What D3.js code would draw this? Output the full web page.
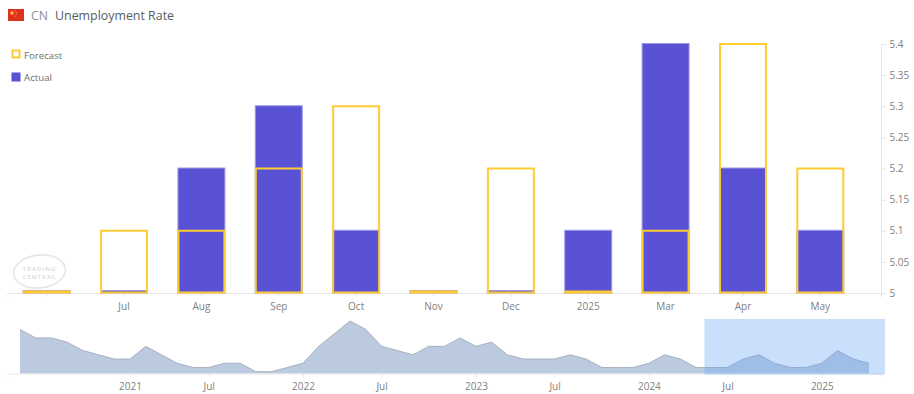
<!DOCTYPE html>
<html>
<head>
<meta charset="utf-8">
<script src="https://cdn.jsdelivr.net/npm/d3@7"></script>
<style>
  html, body { margin: 0; background: #fff; }
  svg { display: block; font-family: "Open Sans", sans-serif; }
  .axis path, .axis line { stroke: #e6e6e6; }
  .axis text { fill: #808080; font-size: 10px; font-family: "Open Sans", sans-serif; }
</style>
</head>
<body>
<div id="chart-area"></div>
<script>
const months = ["", "Jul", "Aug", "Sep", "Oct", "Nov", "Dec", "2025", "Mar", "Apr", "May"];
const forecast = [5.0, 5.1, 5.1, 5.2, 5.3, 5.0, 5.2, 5.0, 5.1, 5.4, 5.2];
const actual = [5.0, 5.0, 5.2, 5.3, 5.1, 5.0, 5.0, 5.1, 5.4, 5.2, 5.1];
const yTicks = [5, 5.05, 5.1, 5.15, 5.2, 5.25, 5.3, 5.35, 5.4];

// navigator history, one value per release (no January release, so the axis is ordinal)
const history = [
  5.9, 5.7, 5.7, 5.6, 5.4, 5.3, 5.2, 5.2, 5.5, 5.3, 5.1, 5.0, 5.0, 5.1, 5.1, 4.9, 4.9, 5.0, 5.1,
  5.5, 5.8, 6.1, 5.9, 5.5, 5.4, 5.3, 5.5, 5.5, 5.7, 5.5, 5.6, 5.3, 5.2, 5.2, 5.2, 5.3, 5.2, 5.0,
  5.0, 5.0, 5.1, 5.3, 5.2, 5.0, 5.0, 5.0, 5.2, 5.3, 5.1, 5.0, 5.0, 5.1, 5.4, 5.2, 5.1
];
const navTickIndex = [7, 12, 18, 23, 29, 34, 40, 45, 51];
const navTickLabels = ["2021", "Jul", "2022", "Jul", "2023", "Jul", "2024", "Jul", "2025"];
const selectedFrom = 43.53;

const plot = { left: 8, right: 881, barsRight: 859, top: 44, bottom: 293 };
const nav = { left: 20, right: 869, top: 321, low: 371.7, bottom: 373.5, selTop: 319, selRight: 885 };

const svg = d3.select("#chart-area").append("svg")
  .attr("width", 914)
  .attr("height", 394);

const drawHeader = function () {
  const flag = svg.append("g").attr("transform", "translate(8, 9)");
  flag.append("rect").attr("width", 16).attr("height", 12).attr("fill", "#e0301e");
  flag.append("circle").attr("cx", 4).attr("cy", 4).attr("r", 1.7).attr("fill", "#f5c842");
  [[7.4, 2], [8.4, 3.6], [8.4, 5.4], [7.4, 7]].forEach(([x, y]) => {
    flag.append("circle").attr("cx", x).attr("cy", y).attr("r", 0.5).attr("fill", "#f5c842");
  });

  svg.append("text").attr("x", 31).attr("y", 19.5)
    .attr("font-size", 12.4).attr("fill", "#8a8f96").text("CN");
  svg.append("text").attr("x", 55).attr("y", 19.5)
    .attr("font-size", 12.4).attr("fill", "#565c64").text("Unemployment Rate");
}

const drawLegend = function () {
  svg.append("rect").attr("x", 12.5).attr("y", 50.5).attr("width", 7).attr("height", 7)
    .attr("fill", "#fff").attr("stroke", "#ffcb33").attr("stroke-width", 2);
  svg.append("text").attr("x", 24).attr("y", 58.5)
    .attr("font-size", 9.7).attr("fill", "#707070").text("Forecast");
  svg.append("rect").attr("x", 11.5).attr("y", 72.5).attr("width", 9).attr("height", 9)
    .attr("fill", "#5a52d5");
  svg.append("text").attr("x", 24).attr("y", 81)
    .attr("font-size", 9.7).attr("fill", "#707070").text("Actual");
}

const drawWatermark = function () {
  const mark = svg.append("g").attr("transform", "translate(39.5, 271.5)");
  mark.append("ellipse").attr("rx", 26).attr("ry", 16.5).attr("transform", "rotate(-6)")
    .attr("fill", "none").attr("stroke", "#e6e6e6").attr("stroke-width", 1.6);
  const label = mark.append("text").attr("text-anchor", "middle").attr("letter-spacing", 1.1)
    .attr("font-size", 5.8).attr("font-weight", 700).attr("fill", "#dedede");
  label.append("tspan").attr("x", 0).attr("y", -0.5).text("TRADING");
  label.append("tspan").attr("x", 0).attr("y", 7.7).text("CENTRAL");
}

const drawMain = function () {
  const x = d3.scaleBand()
    .domain(months)
    .range([plot.left, plot.barsRight])
    .paddingInner(0.38)
    .paddingOuter(0.19);

  const y = d3.scaleLinear()
    .domain([5, 5.4])
    .range([plot.bottom, plot.top]);

  // a value on the baseline still shows as a sliver of about 3px
  const actualTop = v => Math.min(y(v) - 0.5, y(5) - 2.5);
  const forecastTop = v => Math.min(y(v), y(5) - 1.5);
  const forecastBottom = y(5) - 0.5;

  svg.append("g")
    .attr("class", "x axis")
    .attr("transform", `translate(0, ${plot.bottom + 0.5})`)
    .call(d3.axisBottom(x).tickSize(3).tickPadding(6))
    .call(g => g.select(".domain").attr("d", `M${plot.left},3V0H${plot.right}V3`));

  svg.append("g")
    .attr("class", "y axis")
    .attr("transform", `translate(${plot.right + 0.5}, 0)`)
    .call(d3.axisRight(y).tickValues(yTicks).tickFormat(d => d).tickSize(5).tickPadding(3))
    .call(g => g.select(".domain").attr("d", `M0,${plot.top}V${plot.bottom + 4}`));

  svg.append("g").selectAll("rect")
    .data(actual)
    .join("rect")
    .attr("x", (d, i) => x(months[i]) + 0.5)
    .attr("y", d => actualTop(d))
    .attr("width", x.bandwidth() - 1)
    .attr("height", d => y(5) - actualTop(d))
    .attr("fill", "#5a52d5")
    .attr("stroke", "#9c98e6")
    .attr("stroke-width", 1);

  svg.append("g").selectAll("rect")
    .data(forecast)
    .join("rect")
    .attr("x", (d, i) => x(months[i]) + 1)
    .attr("y", d => forecastTop(d))
    .attr("width", x.bandwidth() - 2)
    .attr("height", d => forecastBottom - forecastTop(d))
    .attr("fill", "none")
    .attr("stroke", "#ffcb33")
    .attr("stroke-width", 2);
}

const drawNavigator = function () {
  const x = d3.scaleLinear()
    .domain([0, history.length - 1])
    .range([nav.left, nav.right]);

  const y = d3.scaleLinear()
    .domain([4.9, 6.1])
    .range([nav.low, nav.top]);

  const area = d3.area()
    .x((d, i) => x(i))
    .y0(nav.bottom)
    .y1(d => y(d));

  svg.append("path")
    .datum(history)
    .attr("d", area)
    .attr("fill", "#bccadf");

  svg.append("path")
    .datum(history)
    .attr("d", area.lineY1())
    .attr("fill", "none")
    .attr("stroke", "#a8b1bf")
    .attr("stroke-width", 1);

  svg.append("g")
    .attr("class", "x axis")
    .attr("transform", `translate(0, ${nav.bottom + 0.5})`)
    .call(d3.axisBottom(x).tickValues(navTickIndex).tickSize(3).tickPadding(6)
      .tickFormat((d, i) => navTickLabels[i]))
    .call(g => g.select(".domain").attr("d", `M${plot.left},3V0H${plot.right}V3`));

  svg.append("rect")
    .attr("x", x(selectedFrom))
    .attr("y", nav.selTop)
    .attr("width", nav.selRight - x(selectedFrom))
    .attr("height", nav.bottom - nav.selTop + 1)
    .attr("fill", "rgba(110, 169, 244, 0.373)");
}

drawWatermark();
drawMain();
drawHeader();
drawLegend();
drawNavigator();
</script>
</body>
</html>
